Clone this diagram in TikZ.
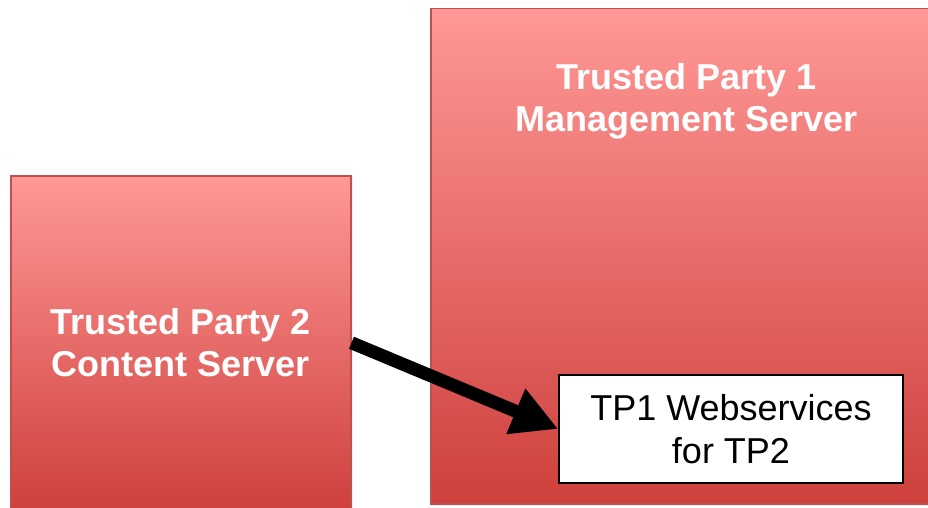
\documentclass[tikz,border=0pt]{standalone}
\usepackage{fontspec}
\setmainfont{Liberation Sans}
\usetikzlibrary{positioning,arrows.meta,shadows}

\definecolor{srvtop}{RGB}{255,152,150}
\definecolor{srvbot}{RGB}{206,64,60}
\definecolor{srvedge}{RGB}{192,80,77}

\tikzset{
  server/.style={shape = rectangle, draw = srvedge, line width = 1.5pt,
    top color = srvtop, bottom color = srvbot, anchor = north west,
    drop shadow = {shadow xshift = 2pt, shadow yshift = -2pt, opacity = 0.15}},
  servertext/.style={text = white, font = \fontsize{36}{42}\selectfont\bfseries, align = center},
  service/.style={shape = rectangle, draw = black, line width = 1.5pt, fill = white,
    font = \fontsize{36}{43}\selectfont, align = center},
  bigarrow/.style={line width = 13pt, -{Triangle[length = 46pt, width = 46pt]}}
}

\begin{document}
\begin{tikzpicture}[x = 1pt, y = -1pt]
\useasboundingbox (0,0) rectangle (928,508);
\clip (0,0) rectangle (928,508);

% the two servers
\node[server, minimum width = 340pt, minimum height = 334pt, servertext] (tp2) at (10,175)
  {Trusted Party 2\\Content Server};
\node[server, minimum width = 512pt, minimum height = 495pt] (tp1) at (430,8) {};
\node[servertext, below = 93pt of tp1.north, anchor = center] (tp1label)
  {Trusted Party 1\\Management Server};

% webservices inside TP1
\node[service, minimum width = 344pt, minimum height = 108pt] (ws) at (731,429)
  {TP1 Webservices\\for TP2};

\draw[bigarrow] (tp2.east) -- (ws.west);
\end{tikzpicture}
\end{document}
